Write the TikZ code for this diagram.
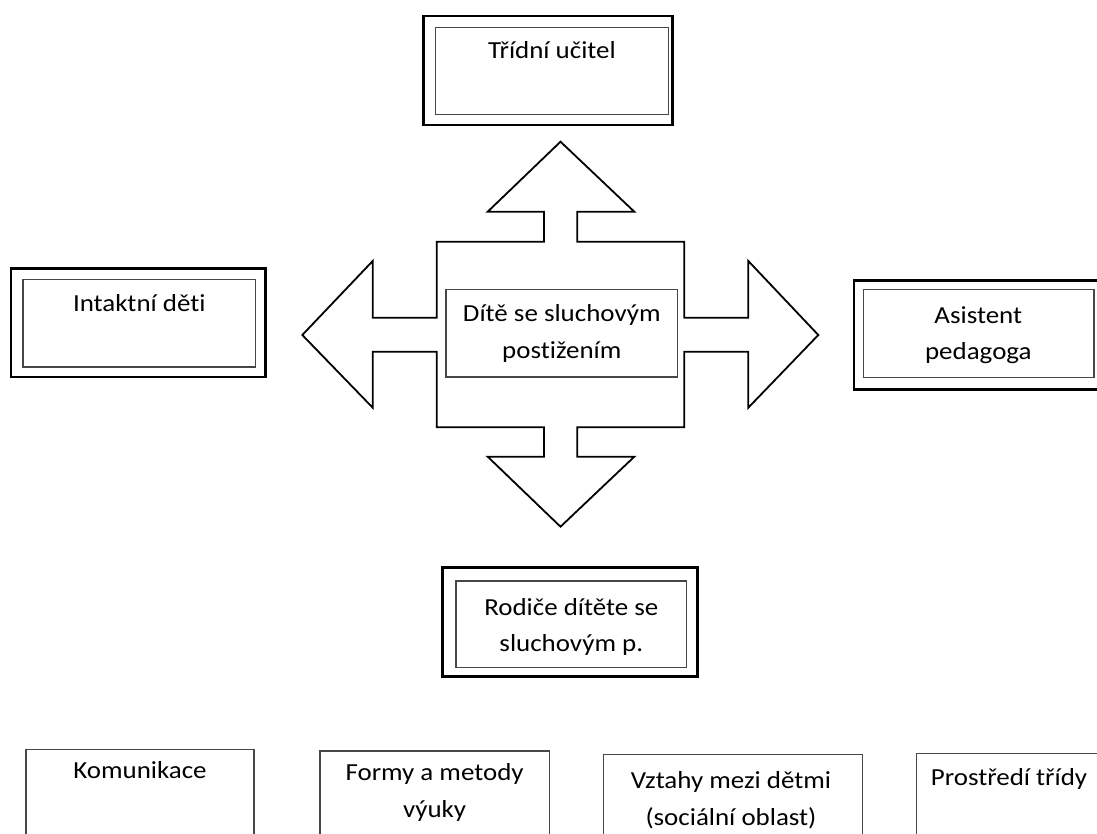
\documentclass[tikz,border=0pt]{standalone}
\usepackage{fontspec}
\setmainfont{Carlito}[FakeStretch=1.1,RawFeature={-liga;-clig;-calt;-dlig}]
\begin{document}
\begin{tikzpicture}[x=1pt,y=-1pt,
  box/.style={draw, inner sep=0pt, outer sep=0pt},
  outerbox/.style={box, draw=black, line width=2.8pt},
  innerbox/.style={box, draw=black!72, line width=1.3pt},
  openbox/.style={box, draw=black!72, line width=1.3pt},
  txt/.style={inner sep=0pt, anchor=base, text=black, font=\fontsize{24.5}{36.6}\selectfont},
  arrowshape/.style={draw=black, line width=1.8pt, line join=miter}]
\useasboundingbox (0,0) rectangle (1097,834);
\clip (0,0) rectangle (1097,834);

% central four-way arrow
\draw[arrowshape] (560.5,141.7) -- (634.3,211.7) -- (577.3,211.7) -- (577.3,241.7)
  -- (684.3,241.7) -- (684.3,317.7) -- (748.3,317.7) -- (748.3,261) -- (818.3,335)
  -- (748.3,407.7) -- (748.3,351.7) -- (684.3,351.7) -- (684.3,427.3) -- (577.3,427.3)
  -- (577.3,456.7) -- (634.3,456.7) -- (560.5,526.7) -- (487.7,456.7) -- (544,456.7)
  -- (544,427.3) -- (436.7,427.3) -- (436.7,351.7) -- (372.7,351.7) -- (372.7,407.7)
  -- (302.3,335) -- (372.7,261) -- (372.7,317.7) -- (436.7,317.7) -- (436.7,241.7)
  -- (544,241.7) -- (544,211.7) -- (487.7,211.7) -- cycle;

% centre box
\node[innerbox, minimum width=231.7pt, minimum height=87.7pt] (center) at (561.85,333.15) {};
\node[txt] (centerA) at (561.8,321.7) {Dítě se sluchovým};
\node[txt] (centerB) at (561.8,358.3) {postižením};

% top box
\node[outerbox, minimum width=249pt, minimum height=109pt] (topO) at (547.8,70.5) {};
\node[innerbox, minimum width=232.6pt, minimum height=87pt] (topI) at (552,70.8) {};
\node[txt] (topT) at (552,58.3) {Třídní učitel};

% left box
\node[outerbox, minimum width=254.7pt, minimum height=108.3pt] (leftO) at (138.35,322.85) {};
\node[innerbox, minimum width=232.7pt, minimum height=87.7pt] (leftI) at (139.35,323.15) {};
\node[txt] (leftT) at (139.3,311.7) {Intaktní děti};

% right box
\node[outerbox, minimum width=258pt, minimum height=108.6pt] (rightO) at (983,335) {};
\node[innerbox, minimum width=230.7pt, minimum height=88pt] (rightI) at (978.65,333.3) {};
\node[txt] (rightA) at (978.3,323.3) {Asistent};
\node[txt] (rightB) at (978.3,359.9) {pedagoga};

% bottom box
\node[outerbox, minimum width=255pt, minimum height=109pt] (botO) at (570.2,622.2) {};
\node[innerbox, minimum width=230.7pt, minimum height=86.3pt] (botI) at (571.35,624.15) {};
\node[txt] (botA) at (571.3,615) {Rodiče dítěte se};
\node[txt] (botB) at (571.3,651.6) {sluchovým p.};

% bottom row
\node[openbox, minimum width=228.1pt, minimum height=100.7pt] (b1) at (140,799.65) {};
\node[txt] (b1T) at (140,778.4) {Komunikace};
\node[openbox, minimum width=229.3pt, minimum height=99pt] (b2) at (434.65,800.5) {};
\node[txt] (b2A) at (434.6,780.7) {Formy a metody};
\node[txt] (b2B) at (434.6,817.3) {výuky};
\node[openbox, minimum width=259.6pt, minimum height=95.7pt] (b3) at (733,802.15) {};
\node[txt] (b3A) at (731,788.7) {Vztahy mezi dětmi};
\node[txt] (b3B) at (731,825.3) {(sociální oblast)};
\node[openbox, minimum width=233.3pt, minimum height=96.7pt] (b4) at (1033.35,801.65) {};
\node[txt] (b4T) at (1009,785.7) {Prostředí třídy};
\end{tikzpicture}
\end{document}
